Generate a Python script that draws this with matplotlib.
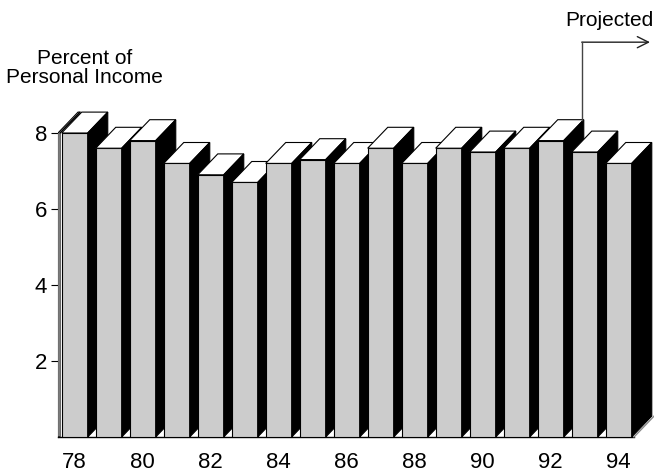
import numpy as np
import matplotlib.pyplot as plt
from matplotlib.patches import Polygon

plt.rcParams['font.family'] = ['Liberation Sans', 'DejaVu Sans']

# данные
years = np.arange(78, 95)
values = [8.0, 7.6, 7.8, 7.2, 6.9, 6.7, 7.2, 7.3, 7.2, 7.6,
          7.2, 7.6, 7.5, 7.6, 7.8, 7.5, 7.2]
yticks = [2, 4, 6, 8]
xticks = years[::2]
proj_idx = 14  # с 92 года - прогноз

# размеры "объема" столбиков
w = 0.765
dx = 0.59
dy = 0.55

fig = plt.figure(figsize=(6.54, 4.74), dpi=100)
ax = fig.add_axes([58 / 654, 37 / 474, 576 / 654, 437 / 474])
ax.set_xlim(77.509, 94.45)
ax.set_ylim(0, 11.5)

front = ax.bar(years, values, width=w, color='#cccccc', edgecolor='black', linewidth=0.8)
for i, (rect, v) in enumerate(zip(front, values)):
    x0 = years[i] - w / 2
    x1 = years[i] + w / 2
    rect.set_zorder(3 * i + 3)
    top = Polygon([(x0, v), (x0 + dx, v + dy), (x1 + dx, v + dy), (x1, v)],
                  closed=True, facecolor='white', edgecolor='black', lw=0.8,
                  zorder=3 * i + 4, clip_on=False)
    side = Polygon([(x1, 0), (x1, v), (x1 + dx, v + dy), (x1 + dx, dy)],
                   closed=True, facecolor='black', edgecolor='black', lw=0.8,
                   zorder=3 * i + 5, clip_on=False)
    ax.add_patch(top)
    ax.add_patch(side)

# левая стенка оси
xl = ax.get_xlim()[0]
ww = 0.06
wall = Polygon([(xl, 0), (xl, 8), (xl + dx, 8 + dy), (xl + dx + ww, 8 + dy),
                (xl + ww, 8), (xl + ww, 0)],
               closed=True, facecolor='white', edgecolor='black', lw=0.8, zorder=2)
ax.add_patch(wall)
ax.plot([xl + ww, xl + ww + dx], [8, 8 + dy], color='black', lw=0.8, zorder=2)

# правый край "пола"
xr = ax.get_xlim()[1]
ax.plot([xr, xr + dx], [0, dy], color='#888888', lw=1, zorder=100, clip_on=False)

# стрелка "Projected"
xv = years[proj_idx] + w / 2 + dx - 0.06
ytop = 10.39
ax.plot([xv, xv], [values[proj_idx] + dy, ytop], color='#444444', lw=1, zorder=100, clip_on=False)
ax.annotate('', xy=(94.92, ytop), xytext=(xv, ytop), annotation_clip=False,
            arrowprops=dict(arrowstyle='->', color='#222222', lw=1, mutation_scale=20,
                            shrinkA=0, shrinkB=0))
ax.text(95.01, 10.95, 'Projected', ha='right', va='center', fontsize=15)

ax.text(78.3, 9.7, 'Percent of\nPersonal Income', ha='center', va='center',
        fontsize=15, linespacing=1.0)

ax.spines['top'].set_visible(False)
ax.spines['right'].set_visible(False)
ax.spines['left'].set_bounds(0, 8)
ax.spines['left'].set_linewidth(0.8)
ax.spines['bottom'].set_linewidth(1.0)
ax.spines['left'].set_zorder(1)
ax.set_yticks(yticks)
ax.set_xticks(xticks)
ax.set_xticklabels([str(t) for t in xticks])
ax.tick_params(axis='y', length=5, width=0.8, pad=3, labelsize=16)
ax.tick_params(axis='x', length=0, pad=11, labelsize=16)

fig.savefig('out.png', dpi=100)
